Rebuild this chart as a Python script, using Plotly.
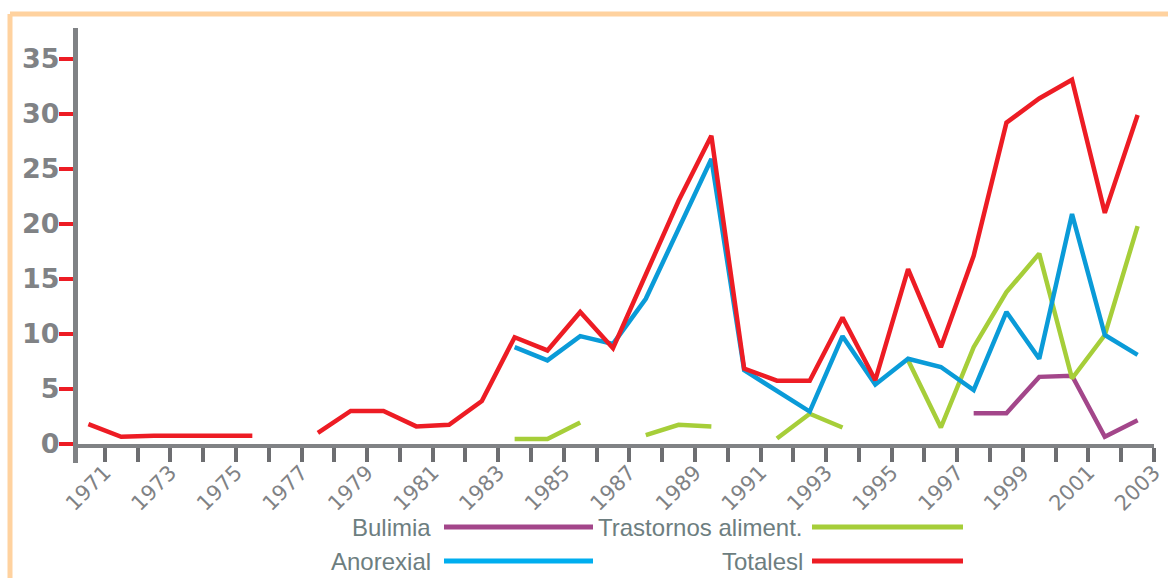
import plotly.graph_objects as go

# ---------------- data ----------------
years = list(range(1971, 2004))
tick_labels = [str(y) if y % 2 == 1 else "" for y in years]
y_ticks = [0, 5, 10, 15, 20, 25, 30, 35]

bulimia = [None] * 27 + [2.8, 2.8, 6.1, 6.2, 0.65, 2.15]
trastornos = [None] * 13 + [0.45, 0.45, 1.95, None, 0.8, 1.75, 1.6, None,
                            0.5, 2.75, 1.5, None, 7.6, 1.5, 8.8, 13.8, 17.3,
                            5.95, 9.9, 19.8]
anorexia = [None] * 13 + [8.8, 7.6, 9.8, 9.1, 13.2, 19.5, 25.9,
                          6.7, 4.8, 2.95, 9.8, 5.4, 7.75, 7.0, 4.9, 12.0,
                          7.75, 20.9, 9.9, 8.1]
totales = [1.8, 0.65, 0.75, 0.75, 0.75, 0.75, None, 1.0, 3.0, 3.0, 1.6, 1.75,
           3.9, 9.7, 8.5, 12.0, 8.7, 15.4, 22.1, 28.0, 6.85, 5.75, 5.75, 11.5,
           5.8, 15.9, 8.8, 17.1, 29.2, 31.4, 33.1, 21.0, 29.9]

series = [
    ("Bulimia", bulimia, "#A3468A"),
    ("Trastornos aliment.", trastornos, "#A6CE39"),
    ("Anorexial", anorexia, "#0A9BD8"),
    ("Totalesl", totales, "#ED1C24"),
]

# ---------------- layout geometry ----------------
W, H = 1168, 578
L, R, T, B = 78, 14, 28, 134
PW, PH = W - L - R, H - T - B


def px(x):
    return (x - L) / PW


def py(y):
    return (H - B - y) / PH


fig = go.Figure()
for name, vals, col in series:
    fig.add_trace(go.Scatter(x=years, y=vals, mode="lines", name=name,
                             line=dict(color=col, width=4.5),
                             connectgaps=False, showlegend=False,
                             hoverinfo="skip"))

shapes = []
# orange frame (top and left)
shapes.append(dict(type="line", xref="paper", yref="paper",
                   x0=px(10), x1=px(W + 5), y0=py(14), y1=py(14),
                   line=dict(color="#FFD29F", width=5)))
shapes.append(dict(type="line", xref="paper", yref="paper",
                   x0=px(10), x1=px(10), y0=py(14), y1=py(H + 5),
                   line=dict(color="#FFD29F", width=5)))
# y-axis line extension below x axis
shapes.append(dict(type="line", xref="paper", yref="paper",
                   x0=px(L - 2.5), x1=px(L - 2.5), y0=py(463), y1=0,
                   line=dict(color="#808285", width=5)))

annotations = []
legend_items = [
    ("Bulimia", "#A3468A", 433, 444, 593, 527),
    ("Trastornos aliment.", "#A6CE39", 805, 812, 963, 527),
    ("Anorexial", "#00AEEF", 433, 444, 593, 561),
    ("Totalesl", "#ED1C24", 805, 812, 963, 561),
]
for text, col, tx, lx0, lx1, ly in legend_items:
    annotations.append(dict(text=text, xref="paper", yref="paper",
                            x=px(tx), y=py(ly), xanchor="right",
                            yanchor="middle", showarrow=False,
                            font=dict(family="Liberation Sans", size=24,
                                      color="#6D7E80")))
    shapes.append(dict(type="line", xref="paper", yref="paper",
                       x0=px(lx0), x1=px(lx1), y0=py(ly), y1=py(ly),
                       line=dict(color=col, width=5)))

fig.update_layout(
    width=W, height=H, autosize=False,
    margin=dict(l=L, r=R, t=T, b=B, pad=0, autoexpand=False),
    paper_bgcolor="white", plot_bgcolor="white",
    shapes=shapes, annotations=annotations,
    hovermode=False,
    xaxis=dict(range=[1970.683, 2003.5], automargin=False,
               tickmode="array",
               tickvals=[y + 0.5 for y in years],
               ticktext=tick_labels,
               tickangle=-45,
               ticks="outside", ticklen=14, tickwidth=4, tickcolor="#6D6E71",
               ticklabelstandoff=-10,
               showline=True, linecolor="#808285", linewidth=4,
               showgrid=False, zeroline=False,
               tickfont=dict(family="DejaVu Sans", size=21, color="#808285")),
    yaxis=dict(range=[0, 37.8], automargin=False,
               tickmode="array", tickvals=y_ticks,
               ticks="outside", ticklen=14, tickwidth=4, tickcolor="#ED1C24",
               ticklabelstandoff=-6,
               showline=True, linecolor="#808285", linewidth=5,
               showgrid=False, zeroline=False,
               tickfont=dict(family="DejaVu Sans", size=27, color="#808285",
                             weight="bold")),
)

fig.write_html("out.html",
               config={"responsive": False, "displayModeBar": False},
               post_script="document.body.style.margin='0';"
                           "document.body.style.padding='0';"
                           "document.body.style.overflow='hidden';"
                           "document.documentElement.style.overflow='hidden';")
